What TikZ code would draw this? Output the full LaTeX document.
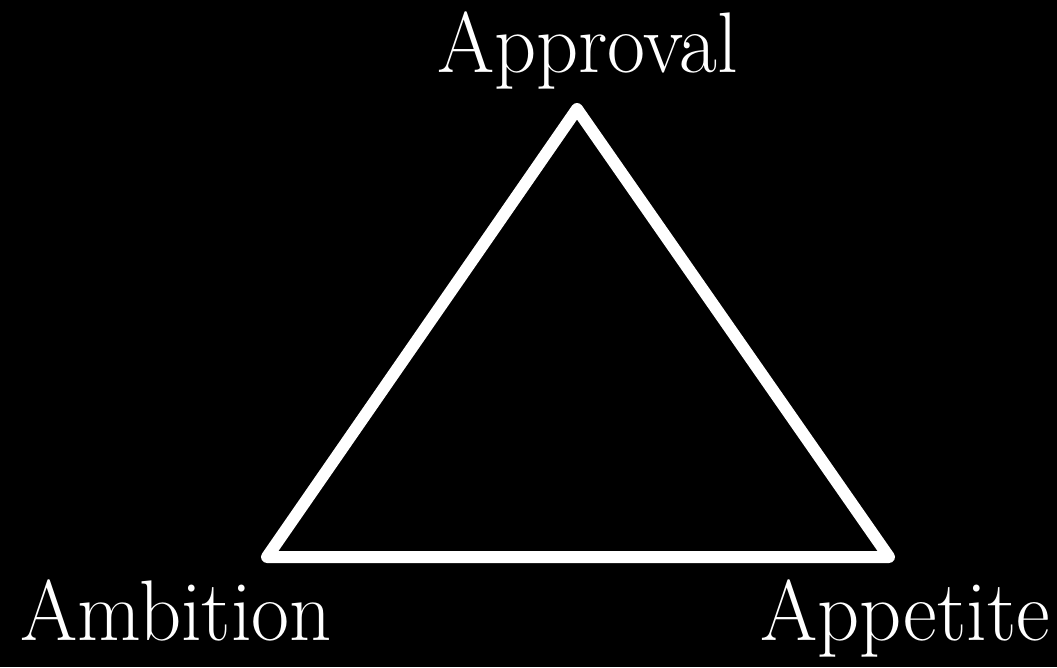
\documentclass[tikz,border=0pt]{standalone}
\usepackage{graphicx}
\begin{document}
\begin{tikzpicture}[x=1pt,y=-1pt,
  lbl/.style={text=white,inner sep=0pt,anchor=base,font=\fontsize{86}{94}\selectfont},
  tri/.style={draw=white,line width=12pt,line join=round}]
\fill[black] (0,0) rectangle (1057,667);
\useasboundingbox (0,0) rectangle (1057,667);
\coordinate (top) at (577,109);
\coordinate (bl) at (267,557);
\coordinate (br) at (889,557);
\draw[tri] (top) -- (bl) -- (br) -- cycle;
\node[lbl] (approval) at (587.5,72) {\scalebox{0.96}[1]{Approval}};
\node[lbl] (ambition) at (176,640) {\scalebox{0.96}[1]{Ambition}};
\node[lbl] (appetite) at (905,640) {\scalebox{0.96}[1]{Appetite}};
\end{tikzpicture}
\end{document}
